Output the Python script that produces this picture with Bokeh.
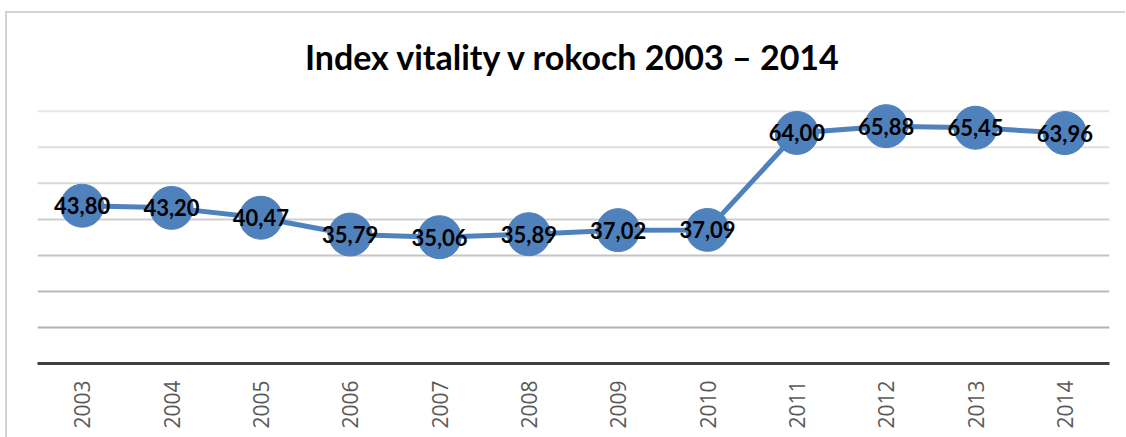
import math
from bokeh.plotting import figure
from bokeh.models import ColumnDataSource, Span, LabelSet
from bokeh.embed import file_html
from bokeh.resources import INLINE
from bokeh.core.properties import value

years = ["2003", "2004", "2005", "2006", "2007", "2008", "2009", "2010", "2011", "2012", "2013", "2014"]
index_vals = [43.80, 43.20, 40.47, 35.79, 35.06, 35.89, 37.02, 37.09, 64.00, 65.88, 65.45, 63.96]
grid_vals = [10, 20, 30, 40, 50, 60, 70]

labels = [f"{v:.2f}".replace(".", ",") for v in index_vals]
src = ColumnDataSource(dict(x=years, y=index_vals, lab=labels))

BLUE = "#4F81BD"
FRAME = "#d4d4d4"

p = figure(x_range=years, y_range=(0, 78), width=1125, height=437,
           output_backend="svg", toolbar_location=None,
           min_border_left=37, min_border_right=16, min_border_bottom=74, min_border_top=82)
p.styles = {
    "background": (f"linear-gradient({FRAME},{FRAME}) 5px 11px / 100% 2px no-repeat, "
                   f"linear-gradient({FRAME},{FRAME}) 5px 11px / 2px 100% no-repeat, white"),
}

p.title.text = "Index vitality v rokoch 2003 \u2013 2014"
p.title.align = "center"
p.title.text_font = "Lato"
p.title.text_font_style = "bold"
p.title.text_font_size = "34px"
p.title.text_color = "#000000"
p.title.standoff = 12

p.outline_line_color = None
p.background_fill_color = "white"
p.border_fill_color = None

p.yaxis.visible = False
p.ygrid.grid_line_color = None
p.xgrid.grid_line_color = None

grid_colors = ["#b0b0b0", "#bababa", "#c4c4c4", "#cecece", "#d8d8d8", "#e0e0e0", "#e6e6e6"]
for gv, gc in zip(grid_vals, grid_colors):
    p.add_layout(Span(location=gv, dimension="width", line_color=gc, line_width=2, level="underlay"))

p.xaxis.axis_line_color = "#404040"
p.xaxis.axis_line_width = 3
p.xaxis.major_tick_line_color = None
p.xaxis.minor_tick_line_color = None
p.xaxis.major_label_orientation = math.pi / 2
p.xaxis.major_label_text_font = "Open Sans"
p.xaxis.major_label_text_font_size = "21px"
p.xaxis.major_label_text_color = "#595959"
p.xaxis.major_label_standoff = 11

p.line("x", "y", source=src, line_color=BLUE, line_width=5)
p.scatter("x", "y", source=src, size=43, fill_color=BLUE, line_color=BLUE)

p.add_layout(LabelSet(x="x", y="y", text="lab", source=src, text_align="center",
                      text_baseline="middle", text_font=value("Lato"),
                      text_font_style="bold", text_font_size="22px", text_color="black"))

open("out.html", "w").write(file_html(p, INLINE))
